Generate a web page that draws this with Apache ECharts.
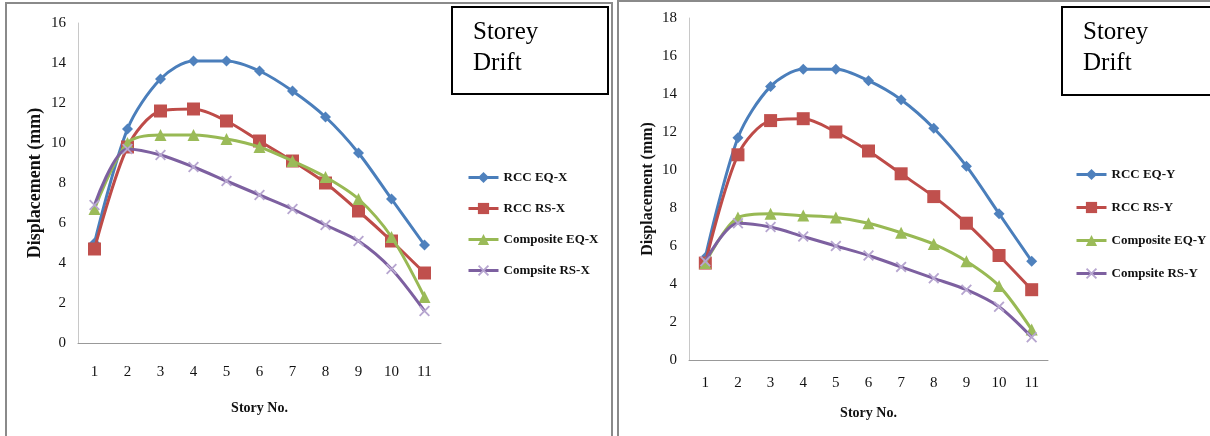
<!DOCTYPE html>
<html>
<head>
<meta charset="utf-8">
<script src="https://cdn.jsdelivr.net/npm/echarts@6/dist/echarts.min.js"></script>
<style>
html,body{margin:0;padding:0;background:#fff;}
#chart{width:1210px;height:436px;}
</style>
</head>
<body>
<div id="chart"></div>
<script>
// ---- data ----
const stories = ['1','2','3','4','5','6','7','8','9','10','11'];
const yTicksX = [0,2,4,6,8,10,12,14,16];
const yTicksY = [0,2,4,6,8,10,12,14,16,18];

const rccEqX  = [5.0,10.7,13.2,14.1,14.1,13.6,12.6,11.3,9.5,7.2,4.9];
const rccRsX  = [4.7,9.8,11.6,11.7,11.1,10.1,9.1,8.0,6.6,5.1,3.5];
const compEqX = [6.7,10.0,10.4,10.4,10.2,9.8,9.1,8.3,7.2,5.3,2.3];
const compRsX = [6.9,9.7,9.4,8.8,8.1,7.4,6.7,5.9,5.1,3.7,1.6];

const rccEqY  = [5.4,11.7,14.4,15.3,15.3,14.7,13.7,12.2,10.2,7.7,5.2];
const rccRsY  = [5.1,10.8,12.6,12.7,12.0,11.0,9.8,8.6,7.2,5.5,3.7];
const compEqY = [5.1,7.5,7.7,7.6,7.5,7.2,6.7,6.1,5.2,3.9,1.6];
const compRsY = [5.2,7.2,7.0,6.5,6.0,5.5,4.9,4.3,3.7,2.8,1.2];

const namesX = ['RCC EQ-X','RCC RS-X','Composite EQ-X','Compsite RS-X'];
const namesY = ['RCC EQ-Y','RCC RS-Y','Composite EQ-Y','Compsite RS-Y'];
const titleText = 'Storey\nDrift';
const xTitle = 'Story No.';
const yTitle = 'Displacement (mm)';

// ---- styles ----
const FONT = '"Liberation Serif","Times New Roman",serif';
const lineColors = ['#4A7EBB','#BE4B48','#98B954','#7D60A0'];
const markColors = ['#4F81BD','#C0504D','#9BBB59','#B7A6D0'];
const xSym = 'path://M0,1.2 L1.2,0 L5,3.8 L8.8,0 L10,1.2 L6.2,5 L10,8.8 L8.8,10 L5,6.2 L1.2,10 L0,8.8 L3.8,5 Z';
const symbols = ['diamond','rect','triangle',xSym];
const symSizes = [11,13,12,11];

function mkSeries(names, datas, axisIdx){
  return datas.map((d,i)=>({
    name: names[i], type:'line', xAxisIndex:axisIdx, yAxisIndex:axisIdx,
    data:d, smooth:0.3, symbol:symbols[i], symbolSize:symSizes[i],
    showSymbol:true,
    lineStyle:{color:lineColors[i], width:3},
    itemStyle:{color:markColors[i], borderWidth:0},
    z: 2+i
  }));
}

function mkX(idx, nameGap, labelMargin){
  return {
    type:'category', gridIndex:idx, data:stories, boundaryGap:true,
    axisLine:{show:true, lineStyle:{color:'#999', width:1}},
    axisTick:{show:false},
    axisLabel:{color:'#111', fontFamily:FONT, fontSize:15, margin:labelMargin},
    name:xTitle, nameLocation:'middle', nameGap:nameGap,
    nameTextStyle:{color:'#111', fontFamily:FONT, fontSize:14, fontWeight:'bold'}
  };
}
function mkY(idx, ticks, nameGap, fs){
  return {
    type:'value', gridIndex:idx, min:ticks[0], max:ticks[ticks.length-1], interval:ticks[1]-ticks[0],
    axisLine:{show:true, lineStyle:{color:'#C8C8C8', width:1}},
    axisTick:{show:false}, splitLine:{show:false},
    axisLabel:{color:'#111', fontFamily:FONT, fontSize:15, margin:12},
    name:yTitle, nameLocation:'middle', nameRotate:90, nameGap:nameGap,
    nameTextStyle:{color:'#111', fontFamily:FONT, fontSize:fs, fontWeight:'bold'}
  };
}
function mkLegend(names, left, top, gap){
  return {
    data:names, orient:'vertical', left:left, top:top, itemWidth:30, itemHeight:14,
    itemGap:gap, itemTextGap:2, selectedMode:false,
    lineStyle:{width:3},
    textStyle:{color:'#111', fontFamily:FONT, fontSize:13, fontWeight:'bold'}
  };
}

const option = {
  animation:false,
  backgroundColor:'#fff',
  grid:[
    {left:78, top:23, width:363, height:320},
    {left:689, top:18, width:359, height:342}
  ],
  xAxis:[mkX(0,58,22), mkX(1,46,16)],
  yAxis:[mkY(0,yTicksX,34,18), mkY(1,yTicksY,33,16)],
  legend:[mkLegend(namesX,462,166,18), mkLegend(namesY,1070,163,20)],
  series:[].concat(mkSeries(namesX,[rccEqX,rccRsX,compEqX,compRsX],0),
                   mkSeries(namesY,[rccEqY,rccRsY,compEqY,compRsY],1)),
  graphic:[
    {type:'rect', shape:{x:6,y:3,width:606,height:440}, style:{fill:null, stroke:'#8a8a8a', lineWidth:2}, silent:true},
    {type:'rect', shape:{x:618,y:1,width:600,height:440}, style:{fill:null, stroke:'#8a8a8a', lineWidth:2}, silent:true},
    {type:'rect', shape:{x:452,y:7,width:156,height:87}, style:{fill:'#fff', stroke:'#000', lineWidth:2}, silent:true},
    {type:'rect', shape:{x:1062,y:7,width:160,height:88}, style:{fill:'#fff', stroke:'#000', lineWidth:2}, silent:true},
    {type:'text', left:473, top:17, style:{text:titleText, fill:'#000', font:'25px '+FONT, lineHeight:31}, silent:true},
    {type:'text', left:1083, top:17, style:{text:titleText, fill:'#000', font:'25px '+FONT, lineHeight:31}, silent:true}
  ]
};
const chart = echarts.init(document.getElementById('chart'), null, {renderer:'canvas'});
chart.setOption(option);
</script>
</body>
</html>
